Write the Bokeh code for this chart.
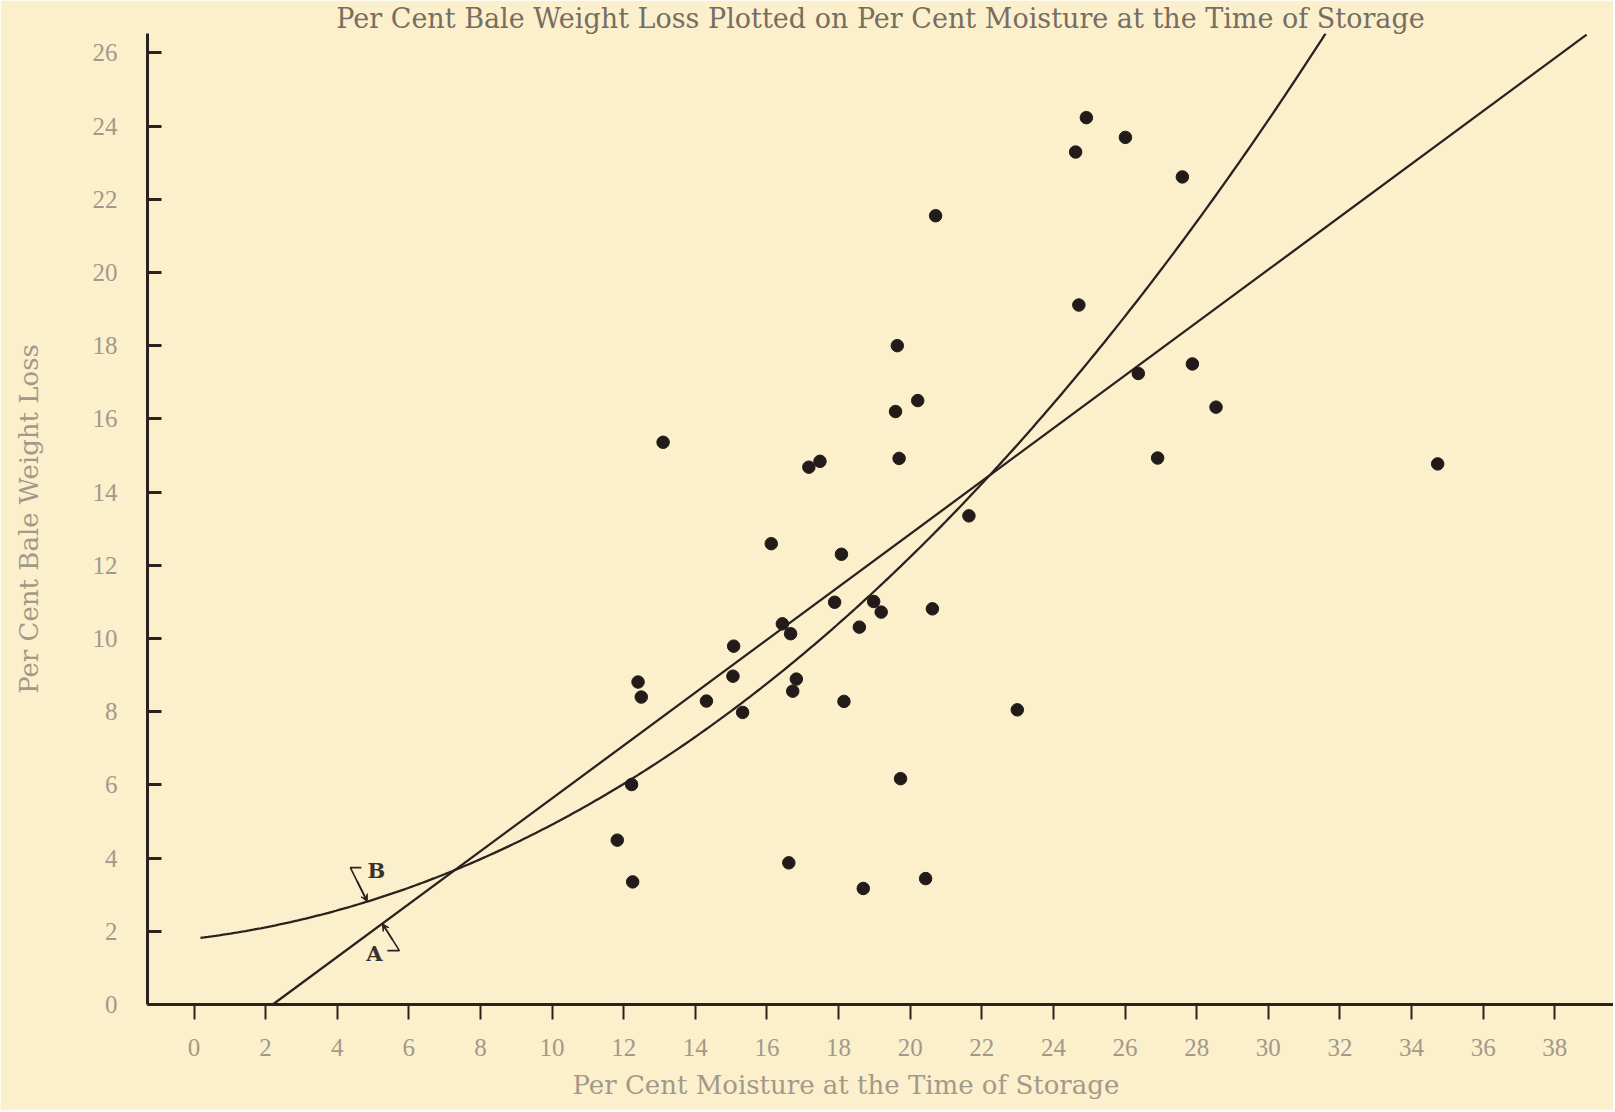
import numpy as np
from bokeh.plotting import figure
from bokeh.models import Range1d, FixedTicker, Label, Arrow, VeeHead, Title
from bokeh.embed import file_html
from bokeh.resources import INLINE

# ---------------- data ----------------
moisture = [13.10, 17.17, 17.48, 19.69, 21.64, 16.12, 18.08, 17.89, 18.98, 19.19,
            20.62, 16.43, 16.66, 18.58, 15.07, 15.05, 16.82, 16.72, 12.40, 12.49,
            14.31, 18.15, 15.32, 12.22, 19.73, 11.82, 12.25, 16.61, 18.69, 20.43,
            20.71, 24.71, 19.64, 20.21, 19.59, 26.37, 27.88, 28.54, 26.91, 24.92,
            26.01, 24.62, 27.60, 34.73, 22.99]
weight_loss = [15.36, 14.68, 14.84, 14.92, 13.35, 12.59, 12.30, 10.99, 11.01, 10.72,
               10.81, 10.40, 10.13, 10.31, 9.79, 8.97, 8.89, 8.56, 8.81, 8.40,
               8.29, 8.28, 7.98, 6.01, 6.17, 4.49, 3.35, 3.87, 3.17, 3.44,
               21.55, 19.11, 18.00, 16.50, 16.20, 17.24, 17.50, 16.32, 14.93, 24.23,
               23.69, 23.29, 22.61, 14.77, 8.05]

# fitted curves as drawn: A straight line, B curvilinear
curve_A_coef = [-1.59, 0.7222]                       # intercept, slope
curve_A_span = [2.20, 38.89]
curve_B_coef = [1.80, 0.1165, 0.018785, 0.0000726]   # cubic polynomial
curve_B_span = [0.18, 31.60]
label_A_at = 5.26
label_B_at = 4.84

x_ticks = list(range(0, 39, 2))
y_ticks = list(range(0, 27, 2))

title_text = "Per Cent Bale Weight Loss Plotted on Per Cent Moisture at the Time of Storage"
x_label = "Per Cent Moisture at the Time of Storage"
y_label = "Per Cent Bale Weight Loss"

# ---------------- styling ----------------
BG = "#fcf0cc"
INK = "#2a221e"
TXT_DARK = "#776d62"
TXT_LIGHT = "#a3998a"

W, H = 1613, 1110
ML, MB, MT, MR = 147, 106, 32, 0
fw, fh = W - ML - MR, H - MB - MT
ux, uy = 35.81, 36.64
x0 = (ML - 193.5) / ux
x1 = x0 + fw / ux
y0 = 0.0
y1 = fh / uy

p = figure(width=W, height=H, x_range=Range1d(x0, x1), y_range=Range1d(y0, y1),
           output_backend="svg", toolbar_location=None,
           min_border_left=ML, min_border_right=MR, min_border_top=MT, min_border_bottom=MB)
p.background_fill_color = BG
p.border_fill_color = BG
p.outline_line_color = None
p.grid.visible = False

# title above the frame
p.title = Title(text=title_text, align="center", standoff=0,
                text_font="DejaVu Serif", text_font_size="27px",
                text_font_style="normal", text_color=TXT_DARK)

# axes
p.xaxis.ticker = FixedTicker(ticks=x_ticks)
p.yaxis.ticker = FixedTicker(ticks=y_ticks)
for ax in (p.xaxis[0], p.yaxis[0]):
    ax.axis_line_color = INK
    ax.axis_line_width = 3
    ax.major_tick_line_color = INK
    ax.minor_tick_line_color = None
    ax.major_label_text_font = "Liberation Serif"
    ax.major_label_text_font_size = "25px"
    ax.major_label_text_color = TXT_LIGHT
p.xaxis.major_tick_in = 0
p.xaxis.major_tick_out = 15
p.xaxis.major_tick_line_width = 2
p.xaxis.major_label_standoff = 19
p.yaxis.major_tick_in = 14
p.yaxis.major_tick_out = 0
p.yaxis.major_tick_line_width = 3
p.yaxis.major_label_standoff = 30
p.yaxis.axis_label = y_label
p.yaxis.axis_label_text_font = "DejaVu Serif"
p.yaxis.axis_label_text_font_size = "26px"
p.yaxis.axis_label_text_font_style = "normal"
p.yaxis.axis_label_text_color = TXT_LIGHT
p.yaxis.axis_label_standoff = 46

# x label as a title below the axis (offset to match the original's placement)
p.add_layout(Title(text=x_label, align="left", offset=425, standoff=18,
                   text_font="DejaVu Serif", text_font_size="26px",
                   text_font_style="normal", text_color=TXT_LIGHT), "below")

# curves
xa = np.linspace(curve_A_span[0], curve_A_span[1], 2)
ya = curve_A_coef[0] + curve_A_coef[1] * xa
p.line(xa, ya, line_width=2.3, line_color=INK)

xb = np.linspace(curve_B_span[0], curve_B_span[1], 300)
yb = sum(c * xb ** i for i, c in enumerate(curve_B_coef))
p.line(xb, yb, line_width=2.3, line_color=INK)

# points
p.scatter(moisture, weight_loss, size=12.5, fill_color="#221b19", line_color="#221b19")

# curve labels with leaders (offsets in pixels from the tip on each curve)
def fA(x):
    return curve_A_coef[0] + curve_A_coef[1] * x

def fB(x):
    return sum(c * x ** i for i, c in enumerate(curve_B_coef))

def put_label(txt, tx, ty, lab_off, hook):
    # lab_off, hook given in screen px (dx right, dy down)
    p.line([tx + hook[0][0] / ux, tx + hook[1][0] / ux, tx + hook[2][0] / ux],
           [ty - hook[0][1] / uy, ty - hook[1][1] / uy, ty - hook[2][1] / uy],
           line_color=INK, line_width=1.6)
    p.add_layout(Arrow(end=VeeHead(size=7, fill_color=INK, line_color=INK, line_width=1),
                       x_start=tx + hook[1][0] / ux * 0.6, y_start=ty - hook[1][1] / uy * 0.6,
                       x_end=tx, y_end=ty, line_color=INK, line_width=1.6))
    p.add_layout(Label(x=tx + lab_off[0] / ux, y=ty - lab_off[1] / uy, text=txt,
                       text_font="DejaVu Serif", text_font_size="21px", text_font_style="bold",
                       text_color="#3b322c", text_align="center", text_baseline="middle"))

tb = fB(label_B_at)
put_label("B", label_B_at, tb, (9, -31), [(-6, -34), (-17, -34), (0, 0)])
ta = fA(label_A_at)
put_label("A", label_A_at, ta, (-8, 30), [(5, 27), (17, 27), (0, 0)])

open("out.html", "w").write(file_html(p, INLINE))
